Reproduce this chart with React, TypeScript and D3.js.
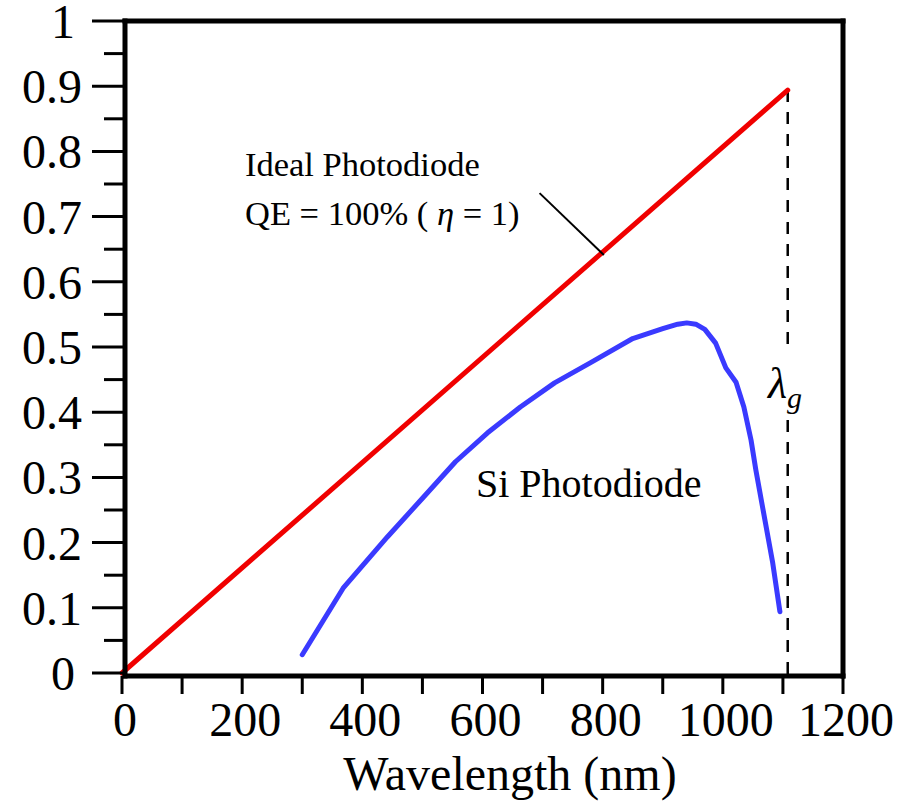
import React from "react";
import * as d3 from "d3";

// Data
const idealWavelength = [0, 1108];
const idealResponsivity = [0, 0.894];

const siWavelength = [300, 368, 442, 502, 555, 608, 663, 720, 780, 850, 900, 925, 940, 955, 970, 988, 1005, 1022, 1035, 1047, 1055, 1068, 1083, 1095];
const siResponsivity = [0.028, 0.13, 0.209, 0.27, 0.324, 0.368, 0.408, 0.445, 0.476, 0.513, 0.528, 0.535, 0.537, 0.535, 0.527, 0.506, 0.468, 0.446, 0.408, 0.357, 0.311, 0.245, 0.169, 0.094];

const lambdaG = 1108;
const xMajorTicks = [0, 200, 400, 600, 800, 1000, 1200];
const xMinorTicks = [100, 300, 500, 700, 900, 1100];
const yMajorTicks = [0, 0.1, 0.2, 0.3, 0.4, 0.5, 0.6, 0.7, 0.8, 0.9, 1];
const yMinorTicks = [0.05, 0.15, 0.25, 0.35, 0.45, 0.55, 0.65, 0.75, 0.85, 0.95];
const xTitle = "Wavelength (nm)";
const idealLabel1 = "Ideal Photodiode";
const siLabel = "Si Photodiode";
// connector from label to ideal line (data space)
const connectorFrom: [number, number] = [695, 0.736];
const connectorTo: [number, number] = [802, 0.641];

const FONT = "'Liberation Serif', 'Times New Roman', Times, serif";

export default function App() {
  const W = 917;
  const H = 809;
  const x = d3.scaleLinear().domain([0, 1200]).range([122, 843]);
  const y = d3.scaleLinear().domain([0, 1]).range([673, 21]);

  const line = d3
    .line<[number, number]>()
    .x((d) => x(d[0]))
    .y((d) => y(d[1]));

  const ideal = idealWavelength.map((w, i) => [w, idealResponsivity[i]] as [number, number]);
  const si = siWavelength.map((w, i) => [w, siResponsivity[i]] as [number, number]);

  const frameL = 125;
  const frameB = 676;
  const frameT = 21;
  const frameR = 843;

  return (
    <svg width={W} height={H} style={{ display: "block", position: "absolute", left: 0, top: 0 }} viewBox={`0 0 ${W} ${H}`}>
      <rect x={0} y={0} width={W} height={H} fill="#fff" />
      {/* dashed lambda_g line */}
      <line x1={x(lambdaG)} x2={x(lambdaG)} y1={y(0.894)} y2={frameB} stroke="#000" strokeWidth={2.5} strokeDasharray="12,10" />
      {/* white box behind lambda label */}
      <rect x={x(lambdaG) - 6} y={350} width={12} height={66} fill="#fff" />
      <text x={768} y={398} fontFamily={FONT} fontStyle="italic" fontSize={44}>
        λ
        <tspan fontSize={30} dy={10}>g</tspan>
      </text>

      {/* lines */}
      <path d={line(ideal) || ""} fill="none" stroke="#f00000" strokeWidth={5} strokeLinecap="round" />
      <path d={line(si) || ""} fill="none" stroke="#3a3aff" strokeWidth={5} strokeLinecap="round" strokeLinejoin="round" />

      {/* connector */}
      <line x1={x(connectorFrom[0])} y1={y(connectorFrom[1])} x2={x(connectorTo[0])} y2={y(connectorTo[1])} stroke="#000" strokeWidth={2} />

      {/* frame */}
      <g stroke="#000" strokeWidth={5} strokeLinecap="square">
        <line x1={frameL} x2={frameR} y1={frameT} y2={frameT} />
        <line x1={frameL} x2={frameR} y1={frameB} y2={frameB} />
        <line x1={frameL} x2={frameL} y1={frameT} y2={frameB} />
        <line x1={frameR} x2={frameR} y1={frameT} y2={frameB} />
      </g>

      {/* ticks */}
      <g stroke="#000" strokeWidth={3}>
        {yMajorTicks.map((v) => (
          <line key={"ym" + v} x1={92} x2={frameL} y1={y(v)} y2={y(v)} />
        ))}
        {yMinorTicks.map((v) => (
          <line key={"yn" + v} x1={104} x2={frameL} y1={y(v)} y2={y(v)} />
        ))}
        {xMajorTicks.concat(xMinorTicks).map((v) => (
          <line key={"x" + v} x1={x(v)} x2={x(v)} y1={frameB} y2={694} />
        ))}
      </g>

      {/* axis labels */}
      <g fontFamily={FONT} fontSize={48} fill="#000">
        {yMajorTicks.map((v) => (
          <text key={"yl" + v} x={Number.isInteger(v) ? 75 : 82} y={y(v) + 17} textAnchor="end">
            {d3.format("~g")(v)}
          </text>
        ))}
        {xMajorTicks.map((v) => (
          <text key={"xl" + v} x={x(v) + 3} y={736} textAnchor="middle">
            {String(v)}
          </text>
        ))}
        <text x={510} y={790} textAnchor="middle">{xTitle}</text>
      </g>

      {/* annotations */}
      <g fontFamily={FONT} fill="#000">
        <text x={245} y={176} fontSize={34.5}>{idealLabel1}</text>
        <text x={245} y={225} fontSize={34.5}>
          QE = 100% ( <tspan fontStyle="italic">η</tspan> = 1)
        </text>
        <text x={476} y={497} fontSize={40}>{siLabel}</text>
      </g>
    </svg>
  );
}
